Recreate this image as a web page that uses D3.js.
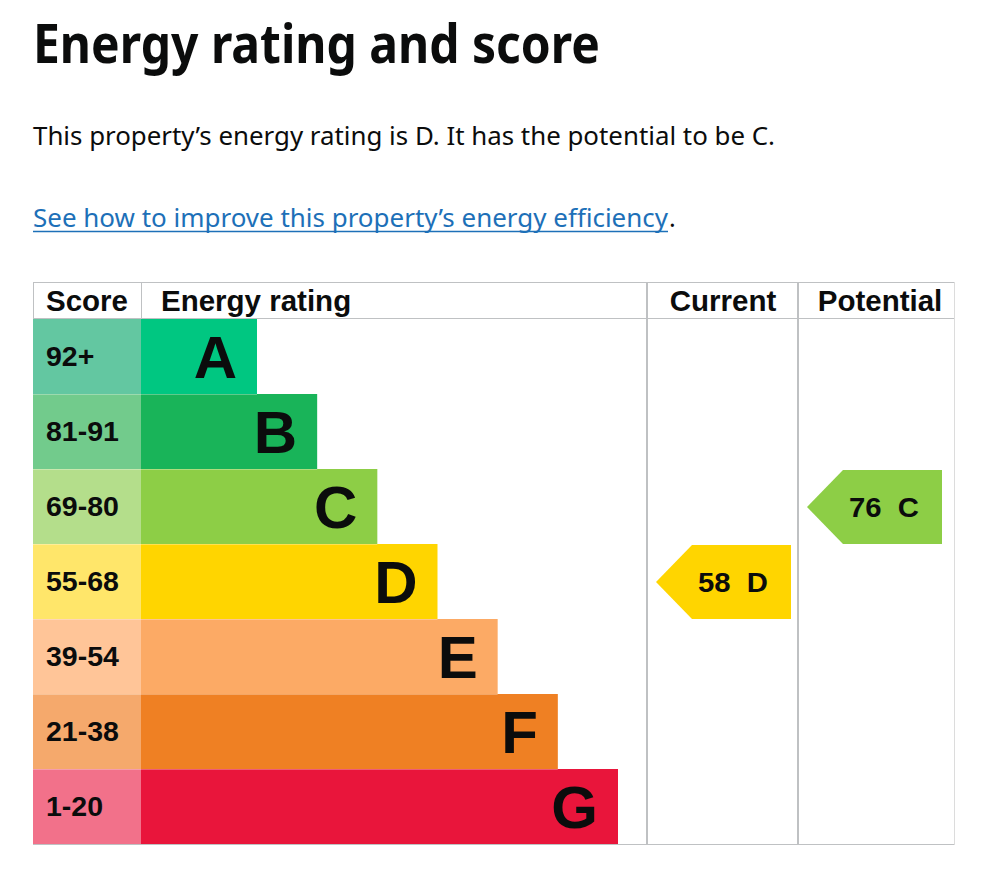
<!DOCTYPE html>
<html>
<head>
<meta charset="utf-8">
<script src="https://cdn.jsdelivr.net/npm/d3@7/dist/d3.min.js"></script>
<style>
  html, body { margin: 0; padding: 0; background: #fff; }
  svg { display: block; }
</style>
</head>
<body>
<svg id="epc"></svg>
<script>
// Data
const ratings = ["A", "B", "C", "D", "E", "F", "G"];
const scoreRanges = ["92+", "81-91", "69-80", "55-68", "39-54", "21-38", "1-20"];
const lowerBounds = [92, 81, 69, 55, 39, 21, 1];
const barColors = ["#00c781", "#19b459", "#8dce46", "#ffd500", "#fcaa65", "#ef8023", "#e9153b"];
const scoreColors = ["#63c7a1", "#72cb8c", "#b4de8b", "#ffe66a", "#ffc598", "#f5a96c", "#f2718a"];
const columns = ["Score", "Energy rating", "Current", "Potential"];
const currentScore = 58;
const potentialScore = 76;

const W = 990, H = 874;
const ink = "#0b0c0c", line = "#bfc1c3";

const svg = d3.select("#epc")
  .attr("width", W)
  .attr("height", H);

const bodyFont = "'Noto Sans', 'Open Sans', sans-serif";
const tableFont = "'Liberation Sans', Arial, sans-serif";

// Heading and intro text
svg.append("text")
  .attr("x", 33).attr("y", 63)
  .attr("font-family", bodyFont)
  .attr("font-weight", 700)
  .attr("font-size", 54)
  .attr("fill", ink)
  .attr("textLength", 567)
  .attr("lengthAdjust", "spacingAndGlyphs")
  .text("Energy rating and score");

svg.append("text")
  .attr("x", 33).attr("y", 145)
  .attr("font-family", bodyFont)
  .attr("font-size", 25)
  .attr("fill", ink)
  .attr("textLength", 742)
  .attr("lengthAdjust", "spacingAndGlyphs")
  .text("This property\u2019s energy rating is D. It has the potential to be C.");

svg.append("text")
  .attr("x", 33).attr("y", 227)
  .attr("font-family", bodyFont)
  .attr("font-size", 25)
  .attr("fill", "#1d70b8")
  .attr("textLength", 635)
  .attr("lengthAdjust", "spacingAndGlyphs")
  .text("See how to improve this property\u2019s energy efficiency");

svg.append("line")
  .attr("x1", 33).attr("x2", 668)
  .attr("y1", 231.5).attr("y2", 231.5)
  .attr("stroke", "#1d70b8")
  .attr("stroke-width", 1.5);

svg.append("text")
  .attr("x", 669).attr("y", 227)
  .attr("font-family", bodyFont)
  .attr("font-size", 25)
  .attr("fill", ink)
  .text(".");

// Table layout
const tableLeft = 33, tableRight = 955;
const headTop = 282, headBottom = 319, tableBottom = 845;
const colEdges = [33, 141, 647, 798, 955];

const y = d3.scaleBand()
  .domain(ratings)
  .range([headBottom, tableBottom - 1])
  .paddingInner(0);

// bar length grows with the rating rank
const barLen = d3.scaleLinear()
  .domain([0, ratings.length - 1])
  .range([116, 477]);

const rows = ratings.map((r, i) => ({
  rating: r, range: scoreRanges[i], bar: barColors[i], cell: scoreColors[i], i
}));

const g = svg.append("g");

// score cells
g.selectAll(".score-cell")
  .data(rows)
  .enter()
  .append("rect")
  .attr("class", "score-cell")
  .attr("x", colEdges[0])
  .attr("y", d => y(d.rating))
  .attr("width", colEdges[1] - colEdges[0])
  .attr("height", y.bandwidth())
  .attr("fill", d => d.cell);

// rating bars
g.selectAll(".bar")
  .data(rows)
  .enter()
  .append("rect")
  .attr("class", "bar")
  .attr("x", colEdges[1])
  .attr("y", d => y(d.rating))
  .attr("width", d => barLen(d.i))
  .attr("height", y.bandwidth())
  .attr("fill", d => d.bar);

// faint separators between rows
g.selectAll(".sep")
  .data(rows.slice(1))
  .enter()
  .append("line")
  .attr("class", "sep")
  .attr("x1", colEdges[0])
  .attr("x2", d => colEdges[1] + barLen(d.i - 1))
  .attr("y1", d => y(d.rating) + 0.5)
  .attr("y2", d => y(d.rating) + 0.5)
  .attr("stroke", "#fff")
  .attr("stroke-opacity", 0.3);

g.selectAll(".score-label")
  .data(rows)
  .enter()
  .append("text")
  .attr("class", "score-label")
  .attr("x", 46)
  .attr("y", d => y(d.rating) + y.bandwidth() / 2 + 9.5)
  .attr("font-family", tableFont)
  .attr("font-weight", 700)
  .attr("font-size", 28.5)
  .attr("fill", ink)
  .text(d => d.range);

g.selectAll(".letter")
  .data(rows)
  .enter()
  .append("text")
  .attr("class", "letter")
  .attr("x", d => colEdges[1] + barLen(d.i) - 20)
  .attr("y", d => y(d.rating) + y.bandwidth() / 2 + 21.5)
  .attr("text-anchor", "end")
  .attr("font-family", tableFont)
  .attr("font-weight", 700)
  .attr("font-size", 60)
  .attr("fill", ink)
  .text(d => d.rating);

// Arrows for current and potential
function ratingOf(score) {
  const i = lowerBounds.findIndex(b => score >= b);
  return ratings[i];
}

const arrows = [
  { score: currentScore, col: 2 },
  { score: potentialScore, col: 3 }
].map(d => {
  const r = ratingOf(d.score);
  return { ...d, rating: r, color: barColors[ratings.indexOf(r)] };
});

const arrowW = 135, arrowTip = 36;

const arrow = g.selectAll(".arrow")
  .data(arrows)
  .enter()
  .append("g")
  .attr("class", "arrow")
  .attr("transform", d => `translate(${colEdges[d.col] + 9},${y(d.rating) + 1})`);

arrow.append("path")
  .attr("d", () => {
    const h = y.bandwidth() - 1;
    return `M0,${h / 2}L${arrowTip},0H${arrowW}V${h}H${arrowTip}Z`;
  })
  .attr("fill", d => d.color);

arrow.append("text")
  .attr("x", 42)
  .attr("y", (y.bandwidth() - 1) / 2 + 10)
  .attr("font-family", tableFont)
  .attr("font-weight", 700)
  .attr("font-size", 27)
  .attr("fill", ink)
  .style("white-space", "pre")
  .attr("textLength", 70)
  .attr("lengthAdjust", "spacingAndGlyphs")
  .text(d => `${d.score}  ${d.rating}`);

// Header
const headerX = [46, 161, 723, 880];
const head = svg.append("g");
head.selectAll("text")
  .data(columns)
  .enter()
  .append("text")
  .attr("x", (d, i) => headerX[i])
  .attr("y", 311)
  .attr("text-anchor", (d, i) => i >= 2 ? "middle" : "start")
  .attr("font-family", tableFont)
  .attr("font-weight", 700)
  .attr("font-size", 29.5)
  .attr("fill", ink)
  .text(d => d);

// Grid lines
const grid = svg.append("g")
  .attr("stroke", line)
  .attr("fill", "none");

grid.append("line")
  .attr("x1", tableLeft).attr("x2", tableRight)
  .attr("y1", headTop + 0.5).attr("y2", headTop + 0.5);

grid.append("line")
  .attr("x1", tableLeft).attr("x2", tableRight)
  .attr("y1", headBottom - 0.5).attr("y2", headBottom - 0.5);

grid.append("line")
  .attr("x1", tableLeft).attr("x2", tableRight)
  .attr("y1", tableBottom - 0.5).attr("y2", tableBottom - 0.5);

// header-only dividers
[colEdges[0], colEdges[1]].forEach(x => {
  grid.append("line")
    .attr("x1", x + 0.5).attr("x2", x + 0.5)
    .attr("y1", headTop).attr("y2", headBottom);
});

// full height dividers
[colEdges[2], colEdges[3]].forEach(x => {
  grid.append("line")
    .attr("x1", x).attr("x2", x)
    .attr("y1", headTop).attr("y2", tableBottom)
    .attr("stroke-width", 2);
});

grid.append("line")
  .attr("x1", tableRight - 0.5).attr("x2", tableRight - 0.5)
  .attr("y1", headTop).attr("y2", tableBottom)
  .attr("stroke", "#dcdcdc");
</script>
</body>
</html>
